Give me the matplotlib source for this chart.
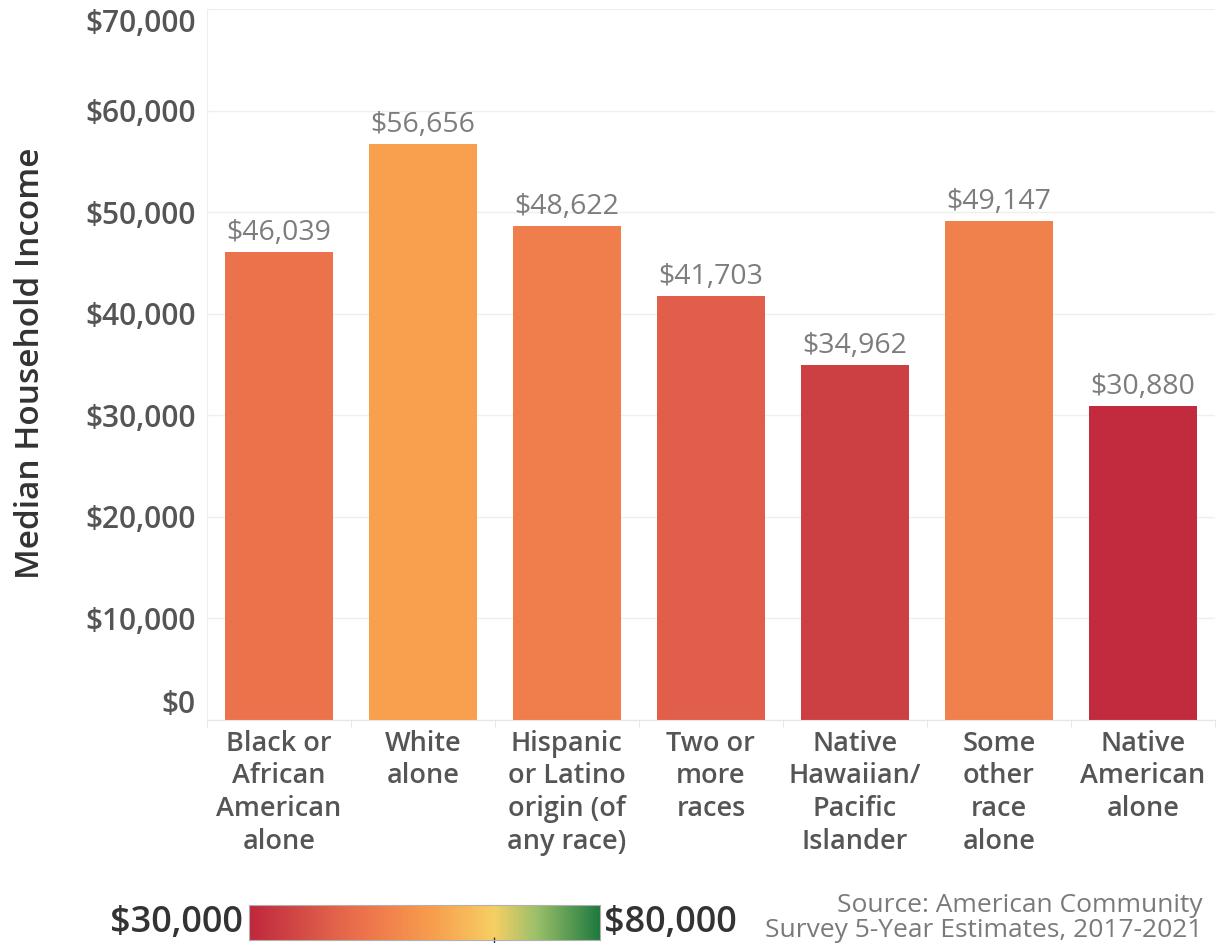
import numpy as np
import matplotlib.pyplot as plt
from matplotlib.colors import LinearSegmentedColormap, Normalize
from matplotlib.ticker import FuncFormatter

plt.rcParams['font.family'] = ['Open Sans', 'DejaVu Sans']

groups = ['Black or\nAfrican\nAmerican\nalone', 'White\nalone',
          'Hispanic\nor Latino\norigin (of\nany race)', 'Two or\nmore\nraces',
          'Native\nHawaiian/\nPacific\nIslander', 'Some\nother\nrace\nalone',
          'Native\nAmerican\nalone']
income = [46039, 56656, 48622, 41703, 34962, 49147, 30880]
yticks = [0, 10000, 20000, 30000, 40000, 50000, 60000, 70000]
scale_min, scale_max, scale_mid = 30000, 80000, 65000

# red-orange-yellow-green diverging scale, centred on yellow
cmap = LinearSegmentedColormap.from_list('rdgn', [
    (0.0, '#c0273d'), (0.10, '#cc4044'), (0.24, '#e2614a'), (0.34, '#ee764b'),
    (0.53, '#f89f4e'), (0.70, '#f6cf64'), (0.82, '#9cc06a'), (1.0, '#1f7a3f')])
norm = Normalize(scale_min, scale_max)

fig = plt.figure(figsize=(12.21, 9.43), dpi=100)
ax = fig.add_axes([0.1695, 0.2365, 0.8255, 0.754])

x = np.arange(len(groups))
bars = ax.bar(x, income, width=0.75, color=cmap(norm(np.array(income))), zorder=2)
for xi, v in zip(x, income):
    ax.text(xi, v + 500, f'${v:,}', ha='center', va='bottom', fontsize=20.5,
            color='#7d7d7d')

ax.set_xlim(-0.5, len(groups) - 0.5)
ax.set_ylim(0, 70000)
ax.set_yticks(yticks)
ax.yaxis.set_major_formatter(FuncFormatter(lambda v, p: f'${v:,.0f}'))
ax.grid(axis='y', color='#efefef', lw=1, zorder=0)
for s in ['top', 'right']:
    ax.spines[s].set_visible(False)
ax.spines['left'].set_color('#eeeeee')
ax.spines['bottom'].set_color('#e6e6e6')
ax.tick_params(axis='y', length=0, pad=8, labelsize=21.5, labelcolor='#555555')
ax.set_xticks(x)
ax.set_xticklabels(groups, fontsize=19.5, color='#555555', fontweight='semibold',
                   linespacing=1.22, va='top')
ax.tick_params(axis='x', length=0, pad=7)
ax.set_xticks(np.arange(len(groups) + 1) - 0.5, minor=True)
ax.tick_params(axis='x', which='minor', length=6, color='#e6e6e6')
for lbl in ax.get_yticklabels():
    lbl.set_fontweight('semibold')
ylbls = ax.get_yticklabels()
ylbls[0].set_va('bottom')
ylbls[-1].set_va('top')

fig.text(0.025, 0.615, 'Median Household Income', rotation=90, ha='center',
         va='center', fontsize=24, fontweight='semibold', color='#333333')

# colour legend
cax = fig.add_axes([0.204, 0.003, 0.287, 0.037])
grad = np.linspace(scale_min, scale_max, 256).reshape(1, -1)
cax.imshow(grad, aspect='auto', cmap=cmap, norm=norm,
           extent=[scale_min, scale_max, 0, 1])
cax.set_yticks([])
cax.set_xticks([scale_mid])
cax.set_xticklabels([])
cax.tick_params(axis='x', direction='inout', length=5, width=1, color='#333333')
for s in cax.spines.values():
    s.set_color('#b0b0b0')
fig.text(0.199, 0.021, f'${scale_min:,}', ha='right', va='center', fontsize=26,
         fontweight='semibold', color='#333333')
fig.text(0.495, 0.021, f'${scale_max:,}', ha='left', va='center', fontsize=26,
         fontweight='semibold', color='#333333')

fig.text(0.985, 0.0, 'Source: American Community\nSurvey 5-Year Estimates, 2017-2021',
         ha='right', va='bottom', fontsize=19, color='#7a7a7a', linespacing=0.98,
         multialignment='right')

fig.savefig('out.png', dpi=100)
